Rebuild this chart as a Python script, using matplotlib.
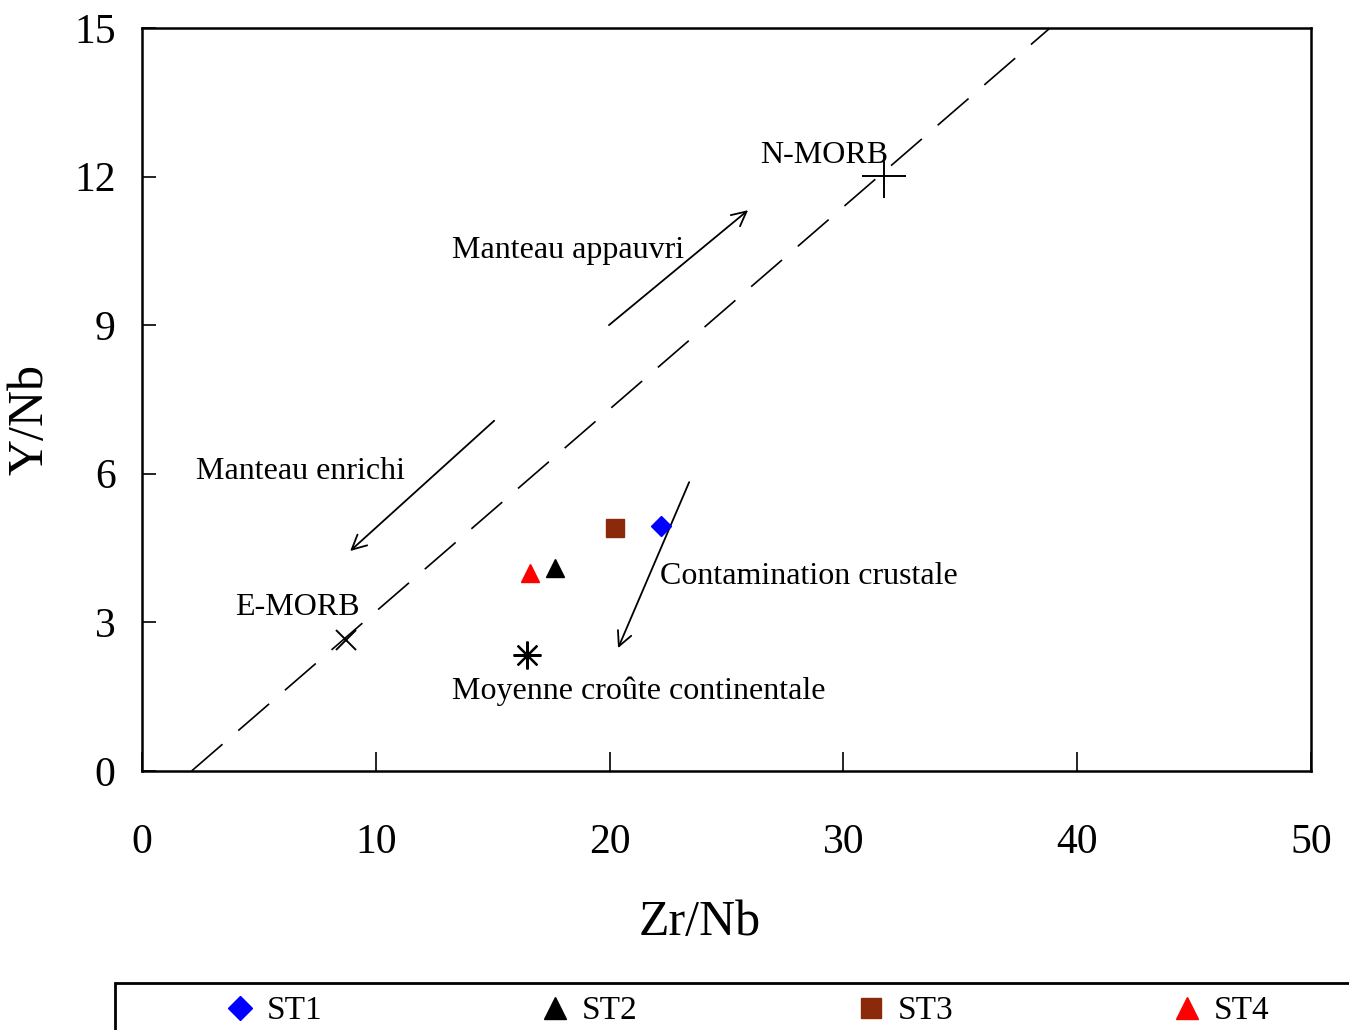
import numpy as np
import matplotlib
matplotlib.use("Agg")
import matplotlib.pyplot as plt
from matplotlib.patches import Rectangle

plt.rcParams['font.family'] = ['Liberation Serif', 'DejaVu Serif']

# sample groups (Zr/Nb, Y/Nb)
groups = ['ST1', 'ST2', 'ST3', 'ST4']
zr_nb = [22.2, 17.66, 20.23, 16.6]
y_nb = [4.95, 4.1, 4.9, 4.0]
colors = ['#0000FF', '#000000', '#8B2A0A', '#FF0000']
markers = ['D', '^', 's', '^']
msizes = [10.5, 13, 12.5, 13]

# reference compositions
emorb = (8.73, 2.64)
nmorb = (31.74, 12.01)
crust = (16.47, 2.34)

# mantle array (dashed trend)
trend_x = [2.12, 38.84]
trend_y = [0.0, 15.0]

# arrows: (tail, head)
arrow_appauvri = ((19.97, 9.00), (25.92, 11.32))
arrow_enrichi = ((15.06, 7.07), (8.90, 4.44))
arrow_contam = ((23.40, 5.83), (20.36, 2.48))

fig = plt.figure(figsize=(13.49, 10.30), dpi=100)
ax = fig.add_axes([0.1053, 0.2515, 0.8666, 0.7214])

ax.plot(trend_x, trend_y, color='black', lw=1.2,
        linestyle=(0, (24.5, 12.5)))

for g, x, y, c, m, s in zip(groups, zr_nb, y_nb, colors, markers, msizes):
    ax.plot(x, y, linestyle='none', marker=m, ms=s, color=c, mec=c,
            label=g, zorder=5)

ax.plot(*emorb, marker='x', ms=15, mew=1.4, color='black', linestyle='none')
ax.plot(*nmorb, marker='+', ms=31, mew=1.4, color='black', linestyle='none')
ax.plot(*crust, marker=(8, 2, 0), ms=20, mew=1.6, color='black',
        linestyle='none')

for tail, head in (arrow_appauvri, arrow_enrichi, arrow_contam):
    ax.annotate('', xy=head, xytext=tail,
                arrowprops=dict(arrowstyle='->', lw=1.3, color='black',
                                mutation_scale=26, shrinkA=0, shrinkB=0))

fs = 23
ax.text(26.43, 12.28, 'N-MORB', fontsize=fs, ha='left', va='baseline')
ax.text(13.26, 10.36, 'Manteau appauvri', fontsize=fs, ha='left', va='baseline')
ax.text(2.31, 5.90, 'Manteau enrichi', fontsize=fs, ha='left', va='baseline')
ax.text(3.98, 3.15, 'E-MORB', fontsize=fs, ha='left', va='baseline')
ax.text(22.16, 3.78, 'Contamination crustale', fontsize=fs, ha='left',
        va='baseline')
ax.text(13.26, 1.45, 'Moyenne croûte continentale', fontsize=fs, ha='left',
        va='baseline')

ax.set_xlim(0, 50)
ax.set_ylim(0, 15)
ax.set_xticks([0, 10, 20, 30, 40, 50])
ax.set_yticks([0, 3, 6, 9, 12, 15])
ax.tick_params(axis='x', direction='in', length=14, width=1.2, pad=38,
               labelsize=30)
ax.tick_params(axis='y', direction='in', length=10, width=1.2, pad=19,
               labelsize=30)
for sp in ax.spines.values():
    sp.set_linewidth(1.8)

ax.set_xlabel('Zr/Nb', fontsize=36)
ax.set_ylabel('Y/Nb', fontsize=36)
ax.xaxis.set_label_coords(0.477, -0.204)
ax.xaxis.label.set_va('center')
ax.yaxis.set_label_coords(-0.0958, 0.4724)
ax.yaxis.label.set_va('center')

# legend strip along the bottom edge
fig.patches.append(Rectangle((115 / 1349, -0.05), 1.0, 0.05 + 1 - 983 / 1030,
                             transform=fig.transFigure, fill=False, lw=2,
                             edgecolor='black', clip_on=False))
handles, labels = ax.get_legend_handles_labels()
fig.legend(handles, labels, loc='center left',
           bbox_to_anchor=(193 / 1349, 1 - 1011 / 1030), ncol=4,
           frameon=False, fontsize=24, handlelength=1.0, handletextpad=0.3,
           columnspacing=6.5, borderpad=0.4, numpoints=1, markerscale=1.2)

fig.savefig('out.png', dpi=100)
